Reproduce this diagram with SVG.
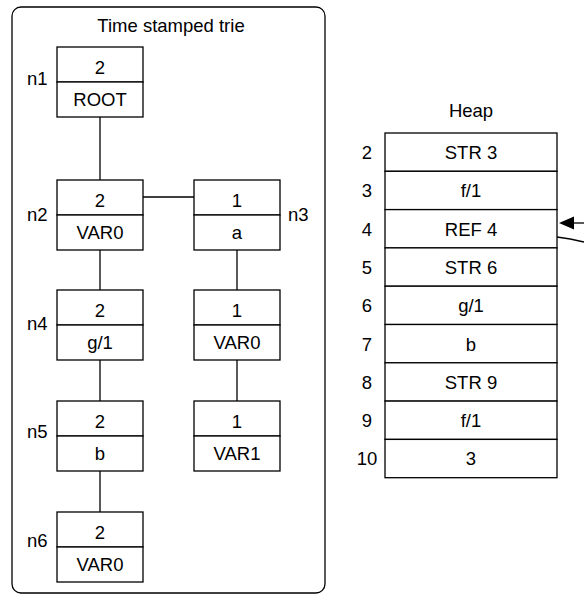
<svg xmlns="http://www.w3.org/2000/svg" width="584" height="594" viewBox="0 0 584 594">
<defs>
<style>
text{font-family:"Liberation Sans",Arial,Helvetica,sans-serif;font-size:18.5px;fill:#000}
.c{text-anchor:middle}
.b{fill:#fff;stroke:#000;stroke-width:1.3}
.l{fill:none;stroke:#000;stroke-width:1.3}
</style>
</defs>
<rect x="12" y="7" width="313" height="586" rx="9" class="l"/>
<text class="c" x="171" y="32">Time stamped trie</text>
<g id="connectors">
<line x1="100" y1="117" x2="100" y2="180" class="l"/>
<line x1="100" y1="250" x2="100" y2="290" class="l"/>
<line x1="100" y1="360" x2="100" y2="401" class="l"/>
<line x1="100" y1="471" x2="100" y2="512" class="l"/>
<line x1="143" y1="197" x2="194" y2="197" class="l"/>
<line x1="237" y1="250" x2="237" y2="290" class="l"/>
<line x1="237" y1="360" x2="237" y2="401" class="l"/>
<line x1="584" y1="223" x2="572" y2="223" class="l"/>
<path d="M559,223 L574,216.5 L574,229.5 Z" fill="#000"/>
<path d="M557,237 Q570,238.5 584,242" class="l"/>
</g>
<g id="n1">
<rect x="57" y="47" width="86" height="35" class="b"/><rect x="57" y="82" width="86" height="35" class="b"/>
<text class="c" x="100" y="74">2</text><text class="c" x="100" y="106">ROOT</text>
<text x="27" y="85">n1</text>
</g>
<g id="n2">
<rect x="57" y="180" width="86" height="35" class="b"/><rect x="57" y="215" width="86" height="35" class="b"/>
<text class="c" x="100" y="207">2</text><text class="c" x="100" y="239">VAR0</text>
<text x="27" y="221">n2</text>
</g>
<g id="n3">
<rect x="194" y="180" width="86" height="35" class="b"/><rect x="194" y="215" width="86" height="35" class="b"/>
<text class="c" x="237" y="207">1</text><text class="c" x="237" y="239">a</text>
<text x="288" y="221">n3</text>
</g>
<g id="n4">
<rect x="57" y="290" width="86" height="35" class="b"/><rect x="57" y="325" width="86" height="35" class="b"/>
<text class="c" x="100" y="317">2</text><text class="c" x="100" y="349">g/1</text>
<text x="27" y="330">n4</text>
</g>
<g id="n3a">
<rect x="194" y="290" width="86" height="35" class="b"/><rect x="194" y="325" width="86" height="35" class="b"/>
<text class="c" x="237" y="317">1</text><text class="c" x="237" y="349">VAR0</text>
</g>
<g id="n5">
<rect x="57" y="401" width="86" height="35" class="b"/><rect x="57" y="436" width="86" height="35" class="b"/>
<text class="c" x="100" y="428">2</text><text class="c" x="100" y="460">b</text>
<text x="27" y="438">n5</text>
</g>
<g id="n3b">
<rect x="194" y="401" width="86" height="35" class="b"/><rect x="194" y="436" width="86" height="35" class="b"/>
<text class="c" x="237" y="428">1</text><text class="c" x="237" y="460">VAR1</text>
</g>
<g id="n6">
<rect x="57" y="512" width="86" height="35" class="b"/><rect x="57" y="547" width="86" height="35" class="b"/>
<text class="c" x="100" y="539">2</text><text class="c" x="100" y="571">VAR0</text>
<text x="27" y="547">n6</text>
</g>
<g id="heap">
<text class="c" x="471" y="117">Heap</text>
<rect x="385" y="133" width="172" height="38.3" class="b"/>
<rect x="385" y="171.3" width="172" height="38.3" class="b"/>
<rect x="385" y="209.6" width="172" height="38.3" class="b"/>
<rect x="385" y="247.9" width="172" height="38.3" class="b"/>
<rect x="385" y="286.2" width="172" height="38.3" class="b"/>
<rect x="385" y="324.5" width="172" height="38.3" class="b"/>
<rect x="385" y="362.8" width="172" height="38.3" class="b"/>
<rect x="385" y="401.1" width="172" height="38.3" class="b"/>
<rect x="385" y="439.4" width="172" height="38.3" class="b"/>
<text class="c" x="471" y="159">STR 3</text><text class="c" x="367" y="159">2</text>
<text class="c" x="471" y="197.3">f/1</text><text class="c" x="367" y="197.3">3</text>
<text class="c" x="471" y="235.6">REF 4</text><text class="c" x="367" y="235.6">4</text>
<text class="c" x="471" y="273.9">STR 6</text><text class="c" x="367" y="273.9">5</text>
<text class="c" x="471" y="312.2">g/1</text><text class="c" x="367" y="312.2">6</text>
<text class="c" x="471" y="350.5">b</text><text class="c" x="367" y="350.5">7</text>
<text class="c" x="471" y="388.8">STR 9</text><text class="c" x="367" y="388.8">8</text>
<text class="c" x="471" y="427.1">f/1</text><text class="c" x="367" y="427.1">9</text>
<text class="c" x="471" y="465.4">3</text><text class="c" x="367" y="465.4">10</text>
</g>
</svg>
